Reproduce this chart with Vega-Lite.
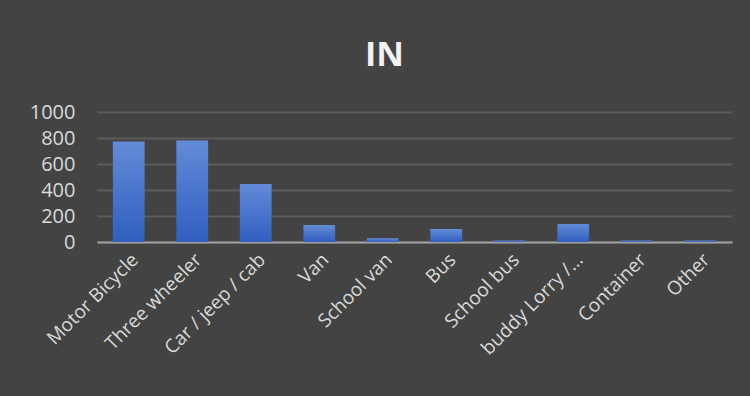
{
  "$schema": "https://vega.github.io/schema/vega-lite/v6.json",
  "autosize": {"type": "none"},
  "width": 635,
  "height": 130,
  "padding": {"left": 97, "top": 112, "right": 18, "bottom": 154},
  "background": "#434343",
  "title": {
    "text": "IN",
    "font": "Open Sans",
    "fontSize": 34,
    "fontWeight": "bold",
    "color": "#f2f2f2",
    "anchor": "middle",
    "frame": "group",
    "dx": -30,
    "baseline": "alphabetic",
    "offset": 2
  },
  "data": {
    "values": [
      {"type": "Motor Bicycle", "count": 773},
      {"type": "Three wheeler", "count": 780},
      {"type": "Car / jeep / cab", "count": 447},
      {"type": "Van", "count": 130},
      {"type": "School van", "count": 28},
      {"type": "Bus", "count": 100},
      {"type": "School bus", "count": 12},
      {"type": "buddy Lorry /…", "count": 138},
      {"type": "Container", "count": 12},
      {"type": "Other", "count": 12}
    ]
  },
  "mark": {
    "type": "bar",
    "fill": {
      "gradient": "linear",
      "x1": 0, "y1": 0, "x2": 0, "y2": 1,
      "stops": [
        {"offset": 0, "color": "#648bd8"},
        {"offset": 1, "color": "#305fc0"}
      ]
    }
  },
  "encoding": {
    "x": {
      "field": "type",
      "type": "nominal",
      "sort": null,
      "scale": {"paddingInner": 0.5, "paddingOuter": 0.25},
      "axis": {
        "title": null,
        "labelAngle": -45,
        "labelFont": "Open Sans",
        "labelFontSize": 19,
        "labelColor": "#d9d9d9",
        "labelPadding": 8,
        "ticks": false,
        "domain": true,
        "domainColor": "#a0a0a0",
        "domainWidth": 2,
        "grid": false,
        "labelLimit": 200
      }
    },
    "y": {
      "field": "count",
      "type": "quantitative",
      "scale": {"domain": [0, 1000]},
      "axis": {
        "title": null,
        "values": [0, 200, 400, 600, 800, 1000],
        "format": "d",
        "labelFont": "Open Sans",
        "labelFontSize": 20,
        "labelColor": "#d9d9d9",
        "labelPadding": 22,
        "ticks": false,
        "domain": false,
        "grid": true,
        "gridColor": "#5c5c5c",
        "gridWidth": 2
      }
    }
  },
  "config": {
    "view": {"stroke": null}
  }
}
